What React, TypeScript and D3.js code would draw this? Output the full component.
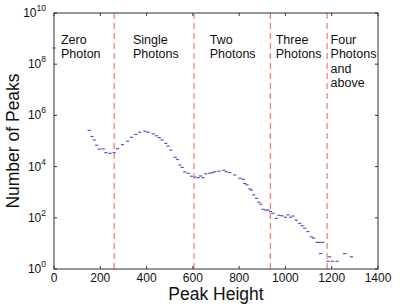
import React from 'react';
import * as d3 from 'd3';

// peak height (x) and number of peaks (y)
const peakHeight = [
  0, 152, 164, 174, 184, 196, 213, 224, 242, 260, 275, 296, 318, 335, 354, 371, 393, 407, 429,
  443, 455, 467, 483, 493, 505, 524, 534, 544, 554, 565, 580, 594, 609, 623, 633, 644, 656,
  673, 685, 695, 713, 734, 745, 760, 781, 803, 817, 824, 834, 846, 853, 863, 875, 885, 893,
  903, 915, 925, 935, 946, 961, 972, 985, 1000, 1011, 1022, 1033, 1047, 1062, 1072, 1083,
  1097, 1112, 1122, 1136, 1148, 1162, 1152, 1184, 1191, 1203, 1223, 1256, 1285,
];
const peakCount = [
  4.3e8, 2.6e5, 1.5e5, 1.1e5, 6.8e4, 4.8e4, 4.9e4, 3.5e4, 3.3e4, 3.5e4, 5.0e4, 7.2e4, 9.8e4,
  1.4e5, 1.8e5, 2.2e5, 2.4e5, 2.2e5, 1.9e5, 1.6e5, 1.35e5, 1.1e5, 8.1e4, 6.3e4, 4.4e4, 2.3e4,
  1.9e4, 1.15e4, 9.3e3, 6.2e3, 5.5e3, 4.2e3, 3.9e3, 3.7e3, 4.3e3, 3.7e3, 5.2e3, 5.5e3, 5.8e3,
  6.3e3, 6.6e3, 7.2e3, 6.3e3, 5.8e3, 4.7e3, 3.5e3, 3.2e3, 2.2e3, 1.95e3, 1.35e3, 1.2e3, 790,
  575, 410, 340, 215, 200, 200, 175, 150, 95, 125, 120, 105, 130, 105, 117, 81, 60, 49, 39,
  29, 18, 16, 11, 11, 11, 4, 2, 3, 2, 2, 4, 3,
];

// photon-number boundaries
const boundaries = [260, 605, 935, 1180];
const regionLabels = [
  { x: 30, lines: ['Zero', 'Photon'] },
  { x: 341, lines: ['Single', 'Photons'] },
  { x: 673, lines: ['Two', 'Photons'] },
  { x: 958, lines: ['Three', 'Photons'] },
  { x: 1195, lines: ['Four', 'Photons', 'and', 'above'] },
];

const xTicks = [0, 200, 400, 600, 800, 1000, 1200, 1400];
const yExponents = [0, 2, 4, 6, 8, 10];

const W = 415;
const H = 308;
const margin = { top: 13, right: 37, bottom: 39, left: 54 };

export default function App() {
  const iw = W - margin.left - margin.right;
  const ih = H - margin.top - margin.bottom;

  const x = d3.scaleLinear().domain([0, 1400]).range([0, iw]);
  const y = d3.scaleLog().domain([1, 1e10]).range([ih, 0]);

  const font = 'Liberation Sans, Arial, Helvetica, sans-serif';
  const axisColor = '#333';

  return (
    <svg width={W} height={H} style={{ position: 'absolute', left: 0, top: 0 }} fontFamily={font}>
      <rect width={W} height={H} fill="#fff" />
      <g transform={`translate(${margin.left},${margin.top})`}>
        {/* data: short horizontal dashes */}
        {peakHeight.map((px, i) => (
          <line
            key={i}
            x1={x(px) - 1.6}
            x2={x(px) + 1.6}
            y1={y(peakCount[i])}
            y2={y(peakCount[i])}
            stroke="#3c3cb4"
            strokeWidth={1.2}
            opacity={0.85}
          />
        ))}

        {/* boundaries */}
        {boundaries.map((b) => (
          <line
            key={b}
            x1={x(b)}
            x2={x(b)}
            y1={0}
            y2={ih}
            stroke="#ff5a5a"
            strokeWidth={1.2}
            strokeDasharray="6,4"
            opacity={0.85}
          />
        ))}

        {regionLabels.map((r) => (
          <text key={r.x} x={x(r.x)} y={31} fontSize={12.5} fill="#111">
            {r.lines.map((l, j) => (
              <tspan key={j} x={x(r.x)} dy={j === 0 ? 0 : 14.3}>
                {l}
              </tspan>
            ))}
          </text>
        ))}

        {/* frame */}
        <rect x={0} y={0} width={iw} height={ih} fill="none" stroke={axisColor} strokeWidth={1} />

        {xTicks.map((t) => (
          <g key={t}>
            <line x1={x(t)} x2={x(t)} y1={ih} y2={ih - 3} stroke={axisColor} />
            <line x1={x(t)} x2={x(t)} y1={0} y2={3} stroke={axisColor} />
            <text x={x(t)} y={ih + 13} fontSize={12} textAnchor="middle" fill="#111">
              {t}
            </text>
          </g>
        ))}

        {yExponents.map((e) => (
          <g key={e}>
            <line x1={0} x2={3} y1={y(10 ** e)} y2={y(10 ** e)} stroke={axisColor} />
            <line x1={iw} x2={iw - 3} y1={y(10 ** e)} y2={y(10 ** e)} stroke={axisColor} />
            <text x={-8} y={y(10 ** e) + 4} fontSize={12} textAnchor="end" fill="#111">
              10
              <tspan dy={-6} fontSize={8.5}>
                {e}
              </tspan>
            </text>
          </g>
        ))}

        <text x={iw / 2} y={ih + 31} fontSize={17.5} textAnchor="middle" fill="#111">
          Peak Height
        </text>
        <text
          transform={`translate(${-35},${ih / 2}) rotate(-90)`}
          fontSize={17.5}
          textAnchor="middle"
          fill="#111"
        >
          Number of Peaks
        </text>
      </g>
    </svg>
  );
}
